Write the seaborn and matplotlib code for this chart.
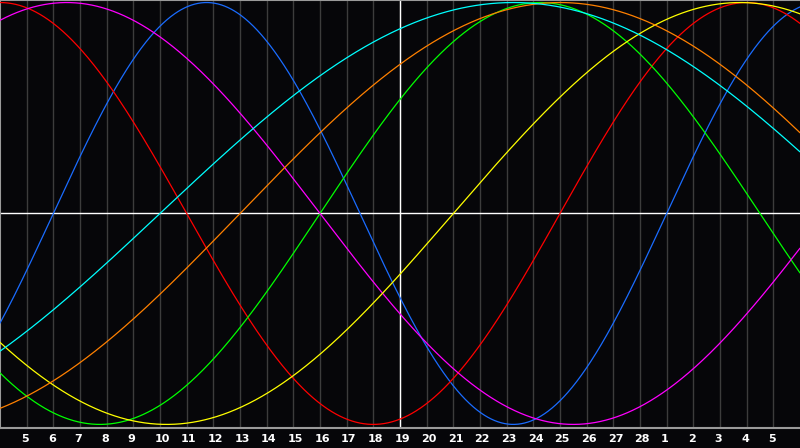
import numpy as np
import pandas as pd
import matplotlib
matplotlib.use("Agg")
import matplotlib.pyplot as plt
import matplotlib.transforms as mtransforms
import seaborn as sns

# biorhythm cycles: length in days, and where each one peaks (days from left edge)
cycle_names = ['physical', 'emotional', 'intellectual', 'intuitive',
               'aesthetic', 'awareness', 'spiritual']
cycle_lengths = [23, 28, 33, 38, 43, 48, 53]
peak_days = [7.75, 0.0, 20.25, 2.5, 27.75, 21.0, 19.25]
cycle_colors = ['#1a6cff', '#ff0000', '#00ff00', '#ff00ff',
                '#ffff00', '#ff8000', '#00ffff']

# day labels under the grid lines (Feb 5 .. Mar 5)
day_labels = [str(d) for d in range(5, 29)] + [str(d) for d in range(1, 6)]
n_days = 30

sns.set_theme(style='dark')
plt.rcParams['font.family'] = ['DejaVu Sans']

t = np.linspace(0, n_days, 1201)
rows = []
for name, length, peak in zip(cycle_names, cycle_lengths, peak_days):
    vals = np.cos(2 * np.pi * (t - peak) / length)
    rows.append(pd.DataFrame({'day': t, 'value': vals, 'cycle': name}))
df = pd.concat(rows, ignore_index=True)

fig = plt.figure(figsize=(8, 4.48), dpi=100, facecolor='#060609')
ax = fig.add_axes([0, 20 / 448, 1, 428 / 448])
ax.set_facecolor('#060609')

# grid lines, one per day
for k in range(1, n_days):
    ax.axvline(k, color='#3c3c3c', lw=1, zorder=1)
ax.axvline(15, color='white', lw=1, zorder=2)
ax.axhline(0, color='white', lw=1, zorder=2)

sns.lineplot(data=df, x='day', y='value', hue='cycle', hue_order=cycle_names,
             palette=dict(zip(cycle_names, cycle_colors)), lw=0.9,
             legend=False, ax=ax, zorder=3, sort=False)

ax.set_xlim(0, n_days)
ax.set_ylim(-1.017, 1.012)
ax.set_xlabel('')
ax.set_ylabel('')
ax.set_yticks([])
ax.set_xticks([])
ax.grid(False)

# day numbers, left edge a few pixels before each grid line
offset = mtransforms.ScaledTranslation(-5.5 / 100, 0, fig.dpi_scale_trans)
trans = ax.get_xaxis_transform() + offset
for k, lab in enumerate(day_labels, start=1):
    ax.text(k, -11 / 428, lab, transform=trans, ha='left', va='center',
            color='white', fontsize=8, fontweight='bold', clip_on=False)

for side in ['left', 'top', 'bottom']:
    ax.spines[side].set_visible(True)
    ax.spines[side].set_color('#9a9a9a')
    ax.spines[side].set_linewidth(1.5)
ax.spines['right'].set_visible(False)

fig.savefig('out.png', dpi=100, facecolor=fig.get_facecolor())
